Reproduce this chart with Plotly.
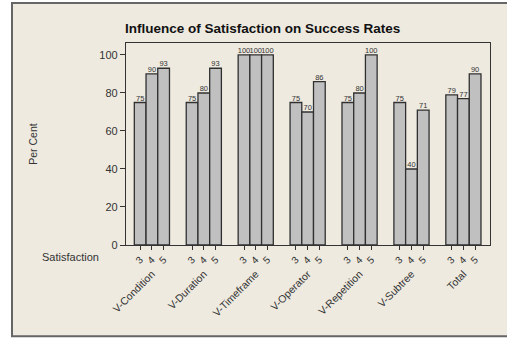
import plotly.graph_objects as go

# ---- data ----
groups = ["V-Condition", "V-Duration", "V-Timeframe", "V-Operator", "V-Repetition", "V-Subtree", "Total"]
levels = ["3", "4", "5"]
sat3 = [75, 75, 100, 75, 75, 75, 79]
sat4 = [90, 80, 100, 70, 80, 40, 77]
sat5 = [93, 93, 100, 86, 100, 71, 90]
y_ticks = [0, 20, 40, 60, 80, 100]

series = [sat3, sat4, sat5]

# ---- layout geometry (pixels) ----
W, H = 507, 339
L, R, T, B = 126, 490, 43, 245.5
GROUP_STEP = 4.43  # in bar widths

def px_x(p):
    return (p - L) / (R - L)

def px_y(p):
    return (B - p) / (B - T)

fill = "#c0c0c0"
edge = "#303030"
txt = "#333333"
FONT = "Liberation Sans"

fig = go.Figure()
tickvals, ticktext = [], []
for k, (lvl, vals) in enumerate(zip(levels, series)):
    xs = [g * GROUP_STEP + k for g in range(len(groups))]
    tickvals += xs
    ticktext += [lvl] * len(xs)
    fig.add_trace(go.Bar(
        x=xs, y=vals, width=1, name=lvl,
        marker=dict(color=fill, line=dict(color=edge, width=1.3)),
        showlegend=False, hoverinfo="skip",
    ))
    fig.add_trace(go.Scatter(
        x=xs, y=vals, mode="text", text=[str(v) for v in vals],
        textposition="top center",
        textfont=dict(family=FONT, size=7.5, color=txt),
        showlegend=False, hoverinfo="skip", cliponaxis=False,
    ))

# invisible trace on the second x axis carrying the group labels
group_centers = [g * GROUP_STEP + 1 for g in range(len(groups))]
fig.add_trace(go.Scatter(x=group_centers, y=[0] * len(groups), xaxis="x2",
                         mode="markers", marker=dict(opacity=0),
                         showlegend=False, hoverinfo="skip"))

# beige frame
fig.add_shape(type="rect", xref="paper", yref="paper",
              x0=px_x(12), x1=px_x(512), y0=px_y(337), y1=px_y(3),
              fillcolor="#eeeae0", line=dict(color="#666666", width=2),
              layer="below")

fig.add_annotation(x=px_x(262), y=px_y(28), xref="paper", yref="paper",
                   text="<b>Influence of Satisfaction on Success Rates</b>",
                   showarrow=False, xanchor="center", yanchor="middle",
                   font=dict(family=FONT, size=13.5, color="#111111"))
fig.add_annotation(x=px_x(33), y=px_y(144), xref="paper", yref="paper",
                   text="Per Cent", textangle=-90, showarrow=False,
                   xanchor="center", yanchor="middle",
                   font=dict(family=FONT, size=10.5, color=txt))
fig.add_annotation(x=px_x(70), y=px_y(258), xref="paper", yref="paper",
                   text="Satisfaction", showarrow=False,
                   xanchor="center", yanchor="middle",
                   font=dict(family=FONT, size=11, color=txt))

xrange = [-1.21, (len(groups) - 1) * GROUP_STEP + 2.5 + 0.77]
fig.update_layout(
    width=W, height=H,
    margin=dict(l=L, r=W - R, t=T, b=H - B, pad=0),
    paper_bgcolor="white", plot_bgcolor="white",
    barmode="overlay", showlegend=False,
    xaxis=dict(range=xrange,
               tickvals=tickvals, ticktext=ticktext, tickangle=-45,
               ticks="outside", ticklen=4, tickcolor=txt,
               tickfont=dict(family=FONT, size=10, color=txt),
               showgrid=False, zeroline=False, showline=True, mirror=True,
               linecolor="#333333", linewidth=1.2),
    xaxis2=dict(range=xrange, overlaying="x", side="bottom", anchor="y",
                tickvals=group_centers, ticktext=groups, tickangle=-45,
                ticks="", ticklabelstandoff=20,
                tickfont=dict(family=FONT, size=10.5, color=txt),
                showgrid=False, zeroline=False, showline=False),
    yaxis=dict(range=[0, (B - T) / 1.905], tickvals=y_ticks,
               ticks="outside", ticklen=5, tickcolor=txt,
               tickfont=dict(family=FONT, size=11, color=txt),
               showgrid=False, zeroline=False, showline=True, mirror=True,
               linecolor="#333333", linewidth=1.2),
)

fig.write_html("out.html", config={"displayModeBar": False},
               post_script="document.body.style.margin='0';")
